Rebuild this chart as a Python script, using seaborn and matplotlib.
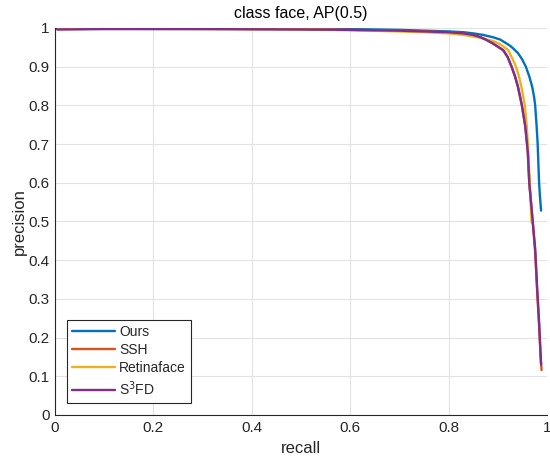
import matplotlib
matplotlib.use("Agg")
import matplotlib.pyplot as plt
import seaborn as sns
import pandas as pd

# precision-recall points
ours_recall = [0.0, 0.005, 0.1, 0.3, 0.5, 0.6, 0.7, 0.75, 0.8, 0.83, 0.85, 0.87, 0.89, 0.905, 0.915,
               0.925, 0.933, 0.941, 0.949, 0.957, 0.964, 0.97, 0.974, 0.976, 0.979, 0.981, 0.984, 0.986, 0.988]
ours_prec = [1.0, 0.998, 0.999, 0.999, 0.998, 0.997, 0.995, 0.993, 0.991, 0.989, 0.986, 0.982, 0.976, 0.97, 0.962,
             0.954, 0.945, 0.935, 0.92, 0.9, 0.875, 0.848, 0.82, 0.8, 0.745, 0.702, 0.6, 0.56, 0.528]

ssh_recall = [0.0, 0.005, 0.1, 0.3, 0.5, 0.6, 0.7, 0.75, 0.8, 0.83, 0.85, 0.865, 0.877, 0.89, 0.902, 0.911,
              0.92, 0.928, 0.935, 0.941, 0.949, 0.956, 0.961, 0.964, 0.971, 0.976, 0.98, 0.984, 0.987, 0.989]
ssh_prec = [1.0, 0.997, 0.998, 0.998, 0.997, 0.995, 0.993, 0.991, 0.989, 0.986, 0.982, 0.976, 0.969, 0.96, 0.95, 0.942,
            0.925, 0.9, 0.875, 0.848, 0.8, 0.745, 0.68, 0.6, 0.5, 0.42, 0.32, 0.23, 0.15, 0.116]

retina_recall = [0.0, 0.005, 0.1, 0.3, 0.5, 0.6, 0.7, 0.75, 0.8, 0.83, 0.85, 0.87, 0.891, 0.905, 0.921,
                 0.93, 0.937, 0.943, 0.948, 0.955, 0.959, 0.962, 0.965, 0.968, 0.969]
retina_prec = [1.0, 0.999, 0.998, 0.997, 0.996, 0.994, 0.991, 0.989, 0.986, 0.982, 0.978, 0.973, 0.966, 0.958, 0.943,
               0.92, 0.9, 0.875, 0.848, 0.8, 0.745, 0.68, 0.6, 0.52, 0.496]

s3fd_recall = [0.0, 0.005, 0.1, 0.3, 0.5, 0.6, 0.7, 0.75, 0.8, 0.83, 0.85, 0.865, 0.877, 0.89, 0.902, 0.911,
               0.92, 0.928, 0.935, 0.941, 0.949, 0.956, 0.961, 0.964, 0.971, 0.976, 0.98, 0.984, 0.987, 0.988]
s3fd_prec = [1.0, 0.996, 0.997, 0.997, 0.996, 0.995, 0.993, 0.991, 0.989, 0.986, 0.982, 0.976, 0.969, 0.96, 0.95, 0.943,
             0.925, 0.9, 0.875, 0.848, 0.8, 0.745, 0.68, 0.6, 0.5, 0.43, 0.33, 0.24, 0.16, 0.13]

names = ["Ours", "SSH", "Retinaface", "S$^3$FD"]
colors = ["#0072BD", "#D95319", "#EDB120", "#7E2F8E"]

frames = []
for name, r, p in zip(names, [ours_recall, ssh_recall, retina_recall, s3fd_recall],
                      [ours_prec, ssh_prec, retina_prec, s3fd_prec]):
    frames.append(pd.DataFrame({"recall": r, "precision": p, "method": name}))
df = pd.concat(frames, ignore_index=True)

sns.set_style("white")
plt.rcParams["font.family"] = ["Liberation Sans", "DejaVu Sans"]

fig = plt.figure(figsize=(5.5, 4.58), dpi=100)
ax = fig.add_axes([0.1, 0.094, 0.8945, 0.845])

sns.lineplot(data=df, x="recall", y="precision", hue="method", hue_order=names,
             palette=colors, sort=False, estimator=None, linewidth=1.7, ax=ax)

ax.set_xlim(0, 1)
ax.set_ylim(0, 1)
ax.set_xticks([0, 0.2, 0.4, 0.6, 0.8, 1])
ax.set_xticklabels(["0", "0.2", "0.4", "0.6", "0.8", "1"])
ax.set_yticks([i / 10 for i in range(11)])
ax.set_yticklabels(["0"] + [f"{i/10:g}" for i in range(1, 10)] + ["1"])
ax.grid(True, color="#e3e3e3", linewidth=0.8)
ax.tick_params(direction="in", length=4, labelsize=11, colors="#262626", pad=4)
for s in ["top", "right"]:
    ax.spines[s].set_visible(False)
for s in ["left", "bottom"]:
    ax.spines[s].set_color("#262626")
    ax.spines[s].set_linewidth(0.8)

ax.set_title("class face, AP(0.5)", fontsize=11.5, color="#000000", pad=7)
ax.set_xlabel("recall", fontsize=12, labelpad=5)
ax.set_ylabel("precision", fontsize=12, labelpad=1)

leg = ax.legend(loc="lower left", bbox_to_anchor=(0.024, 0.031), borderaxespad=0, fontsize=10,
                fancybox=False, framealpha=1, edgecolor="#262626",
                handlelength=3.1, handletextpad=0.3, labelspacing=0.3, borderpad=0.35)
leg.get_frame().set_linewidth(0.8)

fig.savefig("out.png", dpi=100)
